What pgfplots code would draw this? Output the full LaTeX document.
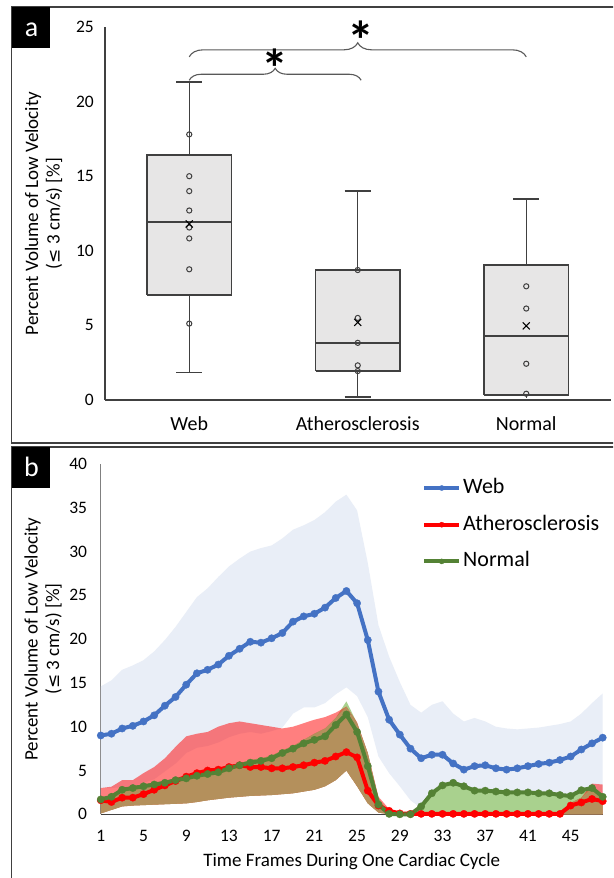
\documentclass[border=0pt]{standalone}
\usepackage{fontspec}
\setmainfont{Carlito}
\newfontfamily\dejavu{DejaVu Sans}
\usepackage{pgfplots}
\pgfplotsset{compat=1.18}
\usepackage{pgfplotstable}
\usetikzlibrary{decorations.pathreplacing}

\definecolor{webc}{HTML}{4472C4}
\definecolor{athc}{HTML}{FF0000}
\definecolor{norc}{HTML}{548235}
\definecolor{bandblue}{RGB}{233,238,247}
\definecolor{bandgreen}{HTML}{A9D18E}
\definecolor{bandbrown}{RGB}{180,144,92}
\definecolor{boxfill}{HTML}{E7E6E6}
\definecolor{boxline}{HTML}{404040}
\definecolor{framec}{HTML}{404040}
\definecolor{bracec}{HTML}{595959}

\pgfplotstableread{
f wm rm nm
1 9.0 1.6 1.7
2 9.2 1.4 2.0
3 9.8 1.9 2.8
4 10.1 1.9 3.0
5 10.6 2.3 3.2
6 11.3 2.8 3.4
7 12.4 3.3 3.6
8 13.4 3.8 3.9
9 14.8 4.3 4.1
10 16.1 4.7 4.4
11 16.5 5.0 4.6
12 17.1 5.1 4.8
13 18.1 5.4 5.25
14 18.9 5.6 5.6
15 19.7 5.4 5.9
16 19.6 5.4 6.1
17 20.1 5.25 6.4
18 20.7 5.25 7.0
19 22.0 5.4 7.5
20 22.6 5.6 8.1
21 22.9 5.9 8.5
22 23.6 6.1 8.9
23 24.7 6.6 10.2
24 25.5 7.1 11.4
25 24.1 6.5 9.4
26 19.9 2.7 5.5
27 14.0 1.0 1.1
28 10.8 0.4 0.05
29 9.1 0.1 0
30 7.5 0.05 0
31 6.4 0.05 0.9
32 6.8 0.05 2.4
33 6.8 0.05 3.3
34 5.8 0.05 3.6
35 5.1 0.05 3.2
36 5.5 0.05 2.7
37 5.6 0.05 2.7
38 5.25 0.05 2.6
39 5.1 0.05 2.5
40 5.25 0.05 2.5
41 5.5 0.05 2.5
42 5.75 0.05 2.4
43 5.9 0.05 2.4
44 6.2 0.05 2.2
45 6.6 1.0 2.1
46 7.4 1.35 2.75
47 8.1 1.75 3.0
48 8.75 1.5 2.0
}\tb

\begin{document}
\begin{tikzpicture}
\path[use as bounding box] (0pt,0pt) rectangle (613pt,878pt);
\clip (0pt,0pt) rectangle (613pt,878pt);
\fill[white] (0pt,0pt) rectangle (613pt,878pt);
% panel frames
\draw[framec, line width=1.5pt] (11.5pt,871pt) rectangle (625pt,435pt);
\draw[framec, line width=1.5pt] (11.5pt,431pt) rectangle (625pt,-10pt);
\fill[black] (11.5pt,871pt) rectangle (50pt,830pt);
\fill[black] (11.5pt,431pt) rectangle (50pt,390pt);
\node[anchor=base, text=white, inner sep=0pt, font=\fontsize{28}{28}\selectfont] at (31.5pt,841.3pt) {a};
\node[anchor=base, text=white, inner sep=0pt, font=\fontsize{28}{28}\selectfont] at (31.5pt,401.3pt) {b};

% ---------------- panel a ----------------
\begin{axis}[
  at={(105pt,478pt)}, anchor=south west, scale only axis,
  width=505.5pt, height=373pt,
  xmin=0.5, xmax=3.5, ymin=0, ymax=25,
  clip=false,
  axis x line*=bottom, axis y line*=left,
  x axis line style={draw=boxline, line width=1.4pt, -},
  y axis line style={draw=boxline, line width=1.1pt, -},
  xtick={1,2,3}, xticklabels={Web,Atherosclerosis,Normal},
  ytick={0,5,10,15,20,25},
  major tick length=0pt,
  /pgf/number format/assume math mode=true,
  xticklabel style={anchor=center, yshift=-24pt, font=\fontsize{20}{20}\selectfont},
  yticklabel style={anchor=east, inner sep=0pt, xshift=-11pt, font=\fontsize{17.5}{17.5}\selectfont},
  ylabel={Percent Volume of Low Velocity\\({\dejavu\fontsize{17}{17}\selectfont ≤} 3 cm/s) [\%]},
  ylabel style={at={(axis description cs:-0.1217,0.5)}, anchor=center, align=center, font=\fontsize{19}{21.5}\selectfont},
]
% whiskers
\addplot[boxline, line width=1.4pt, unbounded coords=jump] coordinates {
(1,16.4) (1,21.3) (1,nan) (0.9225,21.3) (1.0775,21.3) (1,nan)
(1,7.04) (1,1.83) (1,nan) (0.9225,1.83) (1.0775,1.83) (1,nan)
(2,8.71) (2,14.0) (2,nan) (1.9225,14.0) (2.0775,14.0) (2,nan)
(2,1.94) (2,0.2) (2,nan) (1.9225,0.2) (2.0775,0.2) (2,nan)
(3,9.05) (3,13.46) (3,nan) (2.9225,13.46) (3.0775,13.46) (3,nan)
(3,0.33) (3,0.15)};
% boxes (quartiles)
\addplot[fill=boxfill, draw=boxline, line width=1.7pt] coordinates {(0.75,7.04) (1.25,7.04) (1.25,16.4) (0.75,16.4) (0.75,7.04)};
\addplot[fill=boxfill, draw=boxline, line width=1.7pt] coordinates {(1.75,1.94) (2.25,1.94) (2.25,8.71) (1.75,8.71) (1.75,1.94)};
\addplot[fill=boxfill, draw=boxline, line width=1.7pt] coordinates {(2.75,0.33) (3.25,0.33) (3.25,9.05) (2.75,9.05) (2.75,0.33)};
% medians
\addplot[boxline, line width=1.4pt, unbounded coords=jump] coordinates {
(0.75,11.94) (1.25,11.94) (1,nan) (1.75,3.83) (2.25,3.83) (2,nan) (2.75,4.28) (3.25,4.28)};
% individual points
\addplot[only marks, mark=o, mark size=2.6pt, mark options={draw=boxline, fill=white, line width=1pt}] coordinates {
(1,17.8) (1,15.0) (1,14.0) (1,12.7) (1,11.56) (1,10.83) (1,8.76) (1,5.12)
(2,8.71) (2,5.5) (2,3.83) (2,2.32) (2,1.94)
(3,7.62) (3,6.13) (3,2.43) (3,0.42)};
% means
\addplot[only marks, mark=x, mark size=5pt, mark options={draw=black, line width=1.1pt}] coordinates {(1,11.8) (2,5.2) (3,4.97)};
% significance braces
\draw[decorate, decoration={brace, amplitude=14pt}, bracec, line width=1.1pt] (axis cs:1,23.0) -- (axis cs:3,23.0);
\draw[decorate, decoration={brace, amplitude=12pt}, bracec, line width=1.1pt] (axis cs:1,21.43) -- (axis cs:2.02,21.43);
\node[anchor=north, inner sep=0pt, font=\fontsize{54}{54}\selectfont\bfseries] at (axis cs:2.02,25.45) {*};
\node[anchor=north, inner sep=0pt, font=\fontsize{54}{54}\selectfont\bfseries] at (axis cs:1.51,23.55) {*};
\end{axis}

% ---------------- panel b ----------------
\begin{axis}[
  at={(100.8pt,63.7pt)}, anchor=south west, scale only axis,
  width=501.9pt, height=350.3pt,
  xmin=1, xmax=48, ymin=0, ymax=40,
  clip=false,
  axis x line*=bottom, axis y line*=left,
  x axis line style={draw=boxline, line width=1.3pt, -},
  y axis line style={draw=gray, line width=1pt, -},
  xtick={1,5,...,45}, ytick={0,5,...,40},
  major tick length=0pt,
  /pgf/number format/assume math mode=true,
  xticklabel style={anchor=center, yshift=-21.7pt, font=\fontsize{17.5}{17.5}\selectfont},
  yticklabel style={anchor=east, inner sep=0pt, xshift=-13.5pt, font=\fontsize{17.5}{17.5}\selectfont},
  xlabel={Time Frames During One Cardiac Cycle},
  xlabel style={at={(axis description cs:0.5,0)}, anchor=center, yshift=-47.4pt, font=\fontsize{19}{19}\selectfont},
  ylabel={Percent Volume of Low Velocity\\({\dejavu\fontsize{17}{17}\selectfont ≤} 3 cm/s) [\%]},
  ylabel style={at={(axis description cs:-0.1152,0.5)}, anchor=center, align=center, font=\fontsize{19}{21.5}\selectfont},
  legend style={at={(axis description cs:0.640,0.962)}, anchor=north west, draw=none, fill=none, inner sep=0pt,
    font=\fontsize{22}{22}\selectfont, row sep=15.7pt, column sep=2pt,
    nodes={inner sep=0pt, text height=16pt, text depth=5pt}},
  legend cell align=left,
  legend image code/.code={\draw[#1, mark repeat=2, mark phase=2, mark size=2.6pt] plot coordinates {(0pt,0pt) (17.5pt,0pt) (35pt,0pt)};},
]
% Web band (upper, then lower reversed)
\addplot[fill=bandblue, draw=none, forget plot] coordinates {
(1,14.6) (2,15.3) (3,16.5) (4,17.0) (5,17.6) (6,18.6) (7,19.9) (8,21.4) (9,23.1) (10,24.8) (11,25.8) (12,27.1)
(13,28.3) (14,29.2) (15,30.0) (16,30.4) (17,30.7) (18,31.5) (19,32.5) (20,33.0) (21,33.6) (22,34.5) (23,35.7) (24,36.5)
(25,34.7) (26,28.7) (27,21.6) (28,18.0) (29,15.1) (30,12.5) (31,11.6) (32,12.5) (33,12.9) (34,11.5) (35,10.6) (36,11.0)
(37,10.6) (38,10.0) (39,9.8) (40,9.7) (41,9.8) (42,9.9) (43,10.1) (44,10.3) (45,10.6) (46,11.5) (47,12.7) (48,13.8)
(48,2.2) (47,2.2) (46,2.0) (45,1.5) (44,1.2) (43,1.05) (42,0.9) (41,0.75) (40,0.6) (39,0.45) (38,0.3) (37,0.1)
(36,0) (32,0) (31,0.7) (30,1.6) (29,3.2) (28,4.7) (27,6.6) (26,11.1) (25,13.5) (24,14.5) (23,13.7) (22,12.7)
(21,12.2) (20,12.2) (19,11.5) (18,9.9) (17,9.5) (16,9.2) (15,9.4) (14,9.2) (13,8.8) (12,8.2) (11,7.8) (10,7.6)
(9,7.0) (8,5.8) (7,4.9) (6,4.0) (5,3.6) (4,3.2) (3,3.1) (2,3.0) (1,3.0)};
% Normal band
\addplot[fill=bandgreen, draw=none, forget plot] coordinates {
(1,1.9) (2,2.2) (3,3.0) (4,3.2) (5,3.4) (6,3.6) (7,3.8) (8,4.1) (9,4.3) (10,4.6) (11,4.8) (12,5.0)
(13,5.5) (14,5.8) (15,6.2) (16,6.4) (17,6.7) (18,7.3) (19,7.8) (20,8.5) (21,9.2) (22,9.8) (23,11.0) (24,12.9)
(25,10.4) (26,7.0) (27,1.8) (28,0.2) (29,0) (30,0) (31,0.9) (32,2.4) (33,3.3) (34,3.6) (35,3.2) (36,2.7)
(37,2.7) (38,2.6) (39,2.5) (40,2.5) (41,2.5) (42,2.4) (43,2.4) (44,2.2) (45,2.1) (46,2.75) (47,3.0) (48,2.0)
(48,0) (28,0) (27,0.2) (26,1.25) (25,3.2) (24,5.0) (23,3.9) (22,3.2) (21,2.8) (20,2.6) (19,2.4) (18,2.3)
(17,2.2) (16,2.15) (15,2.1) (14,2.0) (13,1.9) (12,1.75) (11,1.6) (10,1.4) (9,1.25) (8,1.2) (7,1.15) (6,1.1)
(5,1.05) (4,1.0) (3,0.9) (2,0.5) (1,0.1)};
% Atherosclerosis band
\addplot[fill=athc, fill opacity=0.5, draw=none, forget plot] coordinates {
(1,3.0) (2,3.15) (3,3.9) (4,3.9) (5,4.7) (6,5.4) (7,6.4) (8,7.7) (9,8.9) (10,9.2) (11,9.4) (12,10.0)
(13,10.4) (14,10.6) (15,10.4) (16,10.2) (17,10.0) (18,9.8) (19,10.0) (20,10.4) (21,10.8) (22,11.1) (23,11.6) (24,12.3)
(25,10.5) (26,7.0) (27,2.0) (28,0.6) (29,0.1) (43,0.1) (44,0.3) (45,1.3) (46,1.9) (47,3.5) (48,3.4)
(48,0) (28,0) (27,0.2) (26,1.25) (25,3.2) (24,5.0) (23,3.9) (22,3.2) (21,2.8) (20,2.6) (19,2.4) (18,2.3)
(17,2.2) (16,2.15) (15,2.1) (14,2.0) (13,1.9) (12,1.75) (11,1.6) (10,1.4) (9,1.25) (8,1.2) (7,1.15) (6,1.1)
(5,1.05) (4,1.0) (3,0.9) (2,0.5) (1,0.1)};
% overlap of the two bands
\addplot[fill=bandbrown, draw=none, forget plot] coordinates {
(1,1.9) (2,2.2) (3,3.0) (4,3.2) (5,3.4) (6,3.6) (7,3.8) (8,4.1) (9,4.3) (10,4.6) (11,4.8) (12,5.0)
(13,5.5) (14,5.8) (15,6.2) (16,6.4) (17,6.7) (18,7.3) (19,7.8) (20,8.5) (21,9.2) (22,9.8) (23,11.0) (24,12.3)
(25,10.4) (26,7.0) (27,1.8) (28,0.2) (28,0) (27,0.2) (26,1.25) (25,3.2) (24,5.0) (23,3.9) (22,3.2) (21,2.8)
(20,2.6) (19,2.4) (18,2.3) (17,2.2) (16,2.15) (15,2.1) (14,2.0) (13,1.9) (12,1.75) (11,1.6) (10,1.4) (9,1.25)
(8,1.2) (7,1.15) (6,1.1) (5,1.05) (4,1.0) (3,0.9) (2,0.5) (1,0.1)};
\addplot[fill=bandbrown, draw=none, forget plot] coordinates {
(44,0) (44,0.3) (45,1.3) (46,1.9) (47,3.0) (48,2.0) (48,0)};
% lines
\addplot[webc, line width=4pt, line join=round, mark=*, mark size=3.7pt, mark options={solid, fill=webc, draw=webc, line width=0.3pt}] table[x=f,y=wm]{\tb};
\addlegendentry{Web}
\addplot[athc, line width=4pt, line join=round, mark=*, mark size=3.7pt, mark options={solid, fill=athc, draw=athc, line width=0.3pt}] table[x=f,y=rm]{\tb};
\addlegendentry{Atherosclerosis}
\addplot[norc, line width=4pt, line join=round, mark=*, mark size=3.7pt, mark options={solid, fill=norc, draw=norc, line width=0.3pt}] table[x=f,y=nm]{\tb};
\addlegendentry{Normal}
\end{axis}
\end{tikzpicture}
\end{document}
